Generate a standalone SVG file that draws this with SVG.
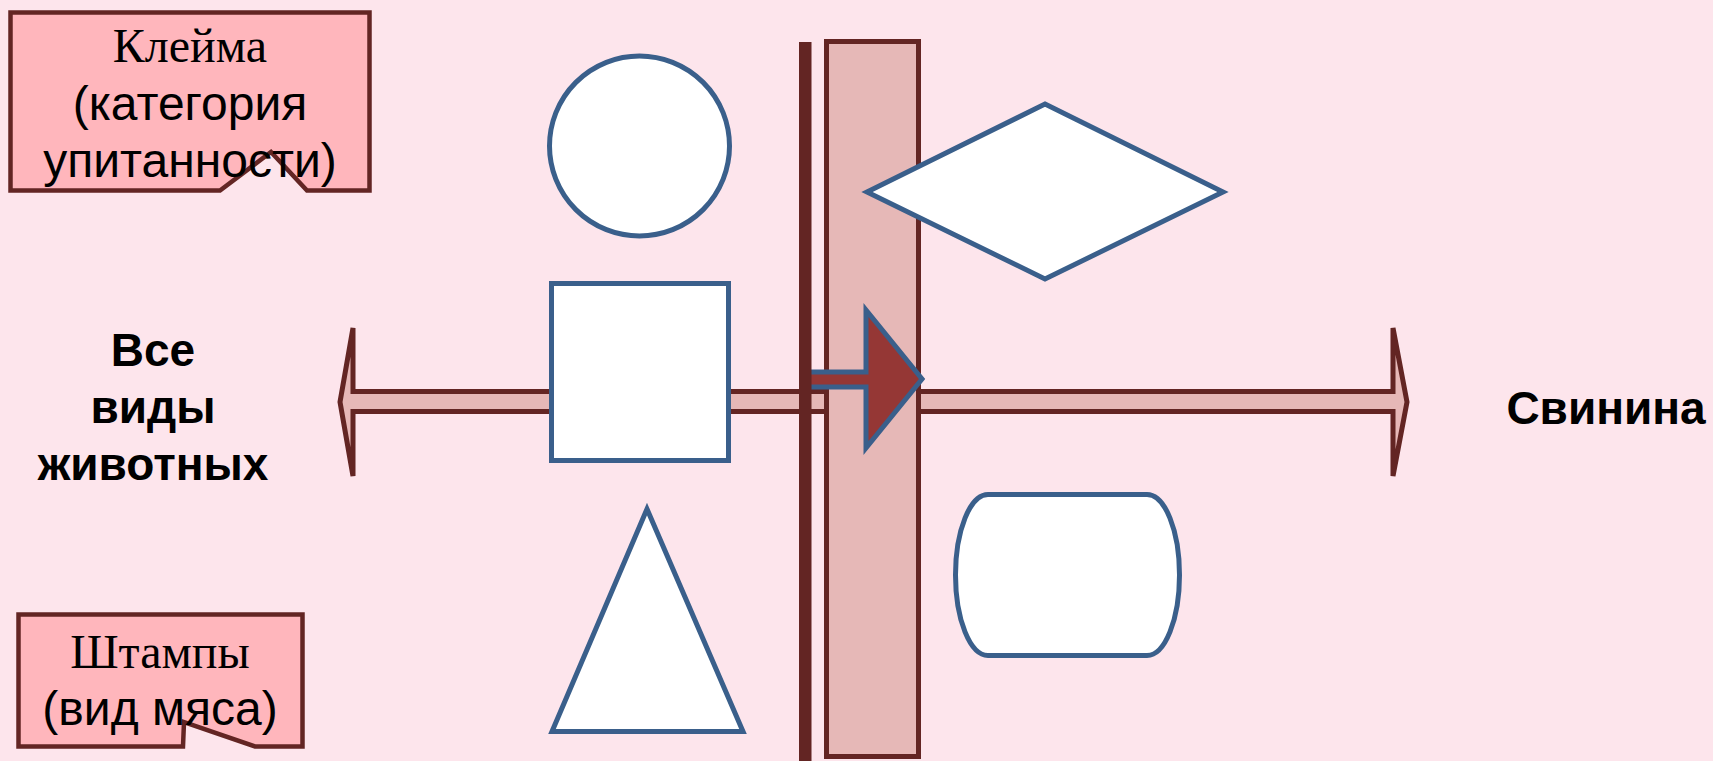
<svg xmlns="http://www.w3.org/2000/svg" width="1713" height="761" viewBox="0 0 1713 761">
<style>
.shape{fill:#FFFFFF;stroke:#3A5F8B;stroke-width:5}
.callout{fill:#FFB6BC;stroke:#632523;stroke-width:4.5;stroke-linejoin:miter}
.serif{font-family:"Liberation Serif","Times New Roman",serif;font-size:48px;fill:#000;text-anchor:middle}
.sans{font-family:"Liberation Sans",Arial,sans-serif;font-size:48px;fill:#000;text-anchor:middle}
.bold{font-family:"Liberation Sans",Arial,sans-serif;font-size:46px;font-weight:bold;fill:#000;text-anchor:middle}
</style>
<rect width="1713" height="761" fill="#FDE5EC"/>
<g id="connectors">
<polygon id="double-arrow" points="340,402 353,328 353,391.5 1393,391.5 1393,328 1407,402 1393,476 1393,411.5 353,411.5 353,476" fill="#E6B8B7" stroke="#632523" stroke-width="5" stroke-linejoin="miter"/>
</g>
<g id="post">
<rect x="826.5" y="41.5" width="92" height="715" fill="#E6B8B7" stroke="#632523" stroke-width="5"/>
</g>
<g id="arrow-right">
<polygon points="806,372 866,372 866,310 922,379 866,448 866,387 806,387" fill="#953735" stroke="#3A5F8B" stroke-width="5" stroke-linejoin="miter"/>
</g>
<g id="bar">
<rect x="799" y="42" width="12.5" height="719" fill="#632523"/>
</g>
<g id="circle"><circle class="shape" cx="639.5" cy="146" r="90"/></g>
<g id="square"><rect class="shape" x="551.5" y="283.5" width="177" height="177"/></g>
<g id="triangle"><polygon class="shape" points="647,509 743,731.5 552,731.5"/></g>
<g id="diamond"><polygon class="shape" points="1045,104 1223,192 1045,279 867,192"/></g>
<g id="rounded"><path class="shape" d="M988,494.5 H1147 A32.5,80.5 0 0 1 1147,655.5 H988 A32.5,80.5 0 0 1 988,494.5 Z"/></g>
<g id="callout-kleima">
<path class="callout" d="M10.5,12.5 H369.5 V190.5 H307 L271,152 L220,190.5 H10.5 Z"/>
<text class="serif" x="190" y="62">Клейма</text>
<text class="sans" x="190" y="120">(категория</text>
<text class="sans" x="190" y="177">упитанности)</text>
</g>
<g id="callout-shtampy">
<path class="callout" d="M18.5,614.5 H302.5 V746.5 H255 L184,722 L183,746.5 H18.5 Z"/>
<text class="serif" x="160" y="668">Штампы</text>
<text class="sans" x="160" y="725">(вид мяса)</text>
</g>
<g id="label-left">
<text class="bold" x="153" y="366">Все</text>
<text class="bold" x="153" y="423">виды</text>
<text class="bold" x="153" y="480">животных</text>
</g>
<g id="label-right">
<text class="bold" x="1606" y="424">Свинина</text>
</g>
</svg>
